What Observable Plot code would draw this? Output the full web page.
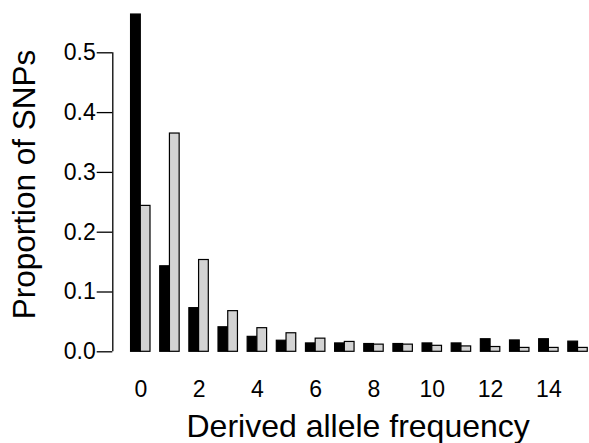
<!DOCTYPE html>
<html>
<head>
<meta charset="utf-8">
<script src="https://cdn.jsdelivr.net/npm/d3@7"></script>
<script src="https://cdn.jsdelivr.net/npm/@observablehq/plot@0.6"></script>
<style>
  html, body { margin: 0; padding: 0; background: white; }
</style>
</head>
<body>
<div id="chart"></div>
<script>
// Derived allele frequency classes
const freqs = [0, 1, 2, 3, 4, 5, 6, 7, 8, 9, 10, 11, 12, 13, 14, 15];
// Proportion of SNPs, first series (black)
const seriesBlack = [0.564, 0.143, 0.073, 0.041, 0.025, 0.0185, 0.014, 0.014, 0.013, 0.013, 0.014, 0.014, 0.021, 0.019, 0.021, 0.017];
// Proportion of SNPs, second series (light grey)
const seriesGrey = [0.244, 0.365, 0.1535, 0.068, 0.0395, 0.031, 0.022, 0.0165, 0.012, 0.012, 0.010, 0.009, 0.008, 0.0065, 0.0065, 0.0065];
// Axis ticks
const xTickLabels = [0, 2, 4, 6, 8, 10, 12, 14];
const yTicks = [0, 0.1, 0.2, 0.3, 0.4, 0.5];

// barplot-style layout: each bar is 1 unit wide, groups separated by 1 unit
const groupLeft = i => 3 * i + 1;
const groupCenter = i => 3 * i + 2;

const rows = freqs.flatMap((f, i) => [
  {freq: f, series: "black", x1: groupLeft(i), x2: groupLeft(i) + 1, value: seriesBlack[i]},
  {freq: f, series: "grey", x1: groupLeft(i) + 1, x2: groupLeft(i) + 2, value: seriesGrey[i]}
]);

const xDomain = [-0.88, 48.18];

const chart = Plot.plot({
  width: 589,
  height: 443,
  marginLeft: 112.3,
  marginRight: 0,
  marginTop: 52.3,
  marginBottom: 91.7,
  style: {fontFamily: "'Liberation Sans', Arial, Helvetica, sans-serif", fontSize: "23px", color: "black", background: "white"},
  x: {domain: xDomain},
  y: {domain: [0, 0.5]},
  marks: [
    Plot.rectY(rows, {
      x1: "x1", x2: "x2", y1: 0, y2: "value",
      fill: d => d.series === "black" ? "black" : "#d3d3d3",
      stroke: "black", strokeWidth: 1.2, inset: 0
    }),
    Plot.ruleX([xDomain[0]], {y1: 0, y2: 0.5, stroke: "black", strokeWidth: 1.3}),
    Plot.axisY({ticks: yTicks, tickFormat: d3.format(".1f"), tickSize: 15.6, tickPadding: 1.5, strokeWidth: 1.3, label: null, fontSize: 23}),
    Plot.axisX({ticks: xTickLabels.map(groupCenter), tickFormat: d => String((d - 2) / 3), tickSize: 0, tickPadding: 28.7, label: null, fontSize: 23}),
    Plot.text(["Derived allele frequency"], {frameAnchor: "bottom", textAnchor: "middle", lineAnchor: "middle", fontSize: 32, dx: 7, dy: 74.5}),
    Plot.text(["Proportion of SNPs"], {frameAnchor: "left", textAnchor: "middle", lineAnchor: "middle", rotate: -90, fontSize: 31.5, dx: -87.6, dy: -17.8})
  ]
});
document.getElementById("chart").appendChild(chart);
</script>
</body>
</html>
